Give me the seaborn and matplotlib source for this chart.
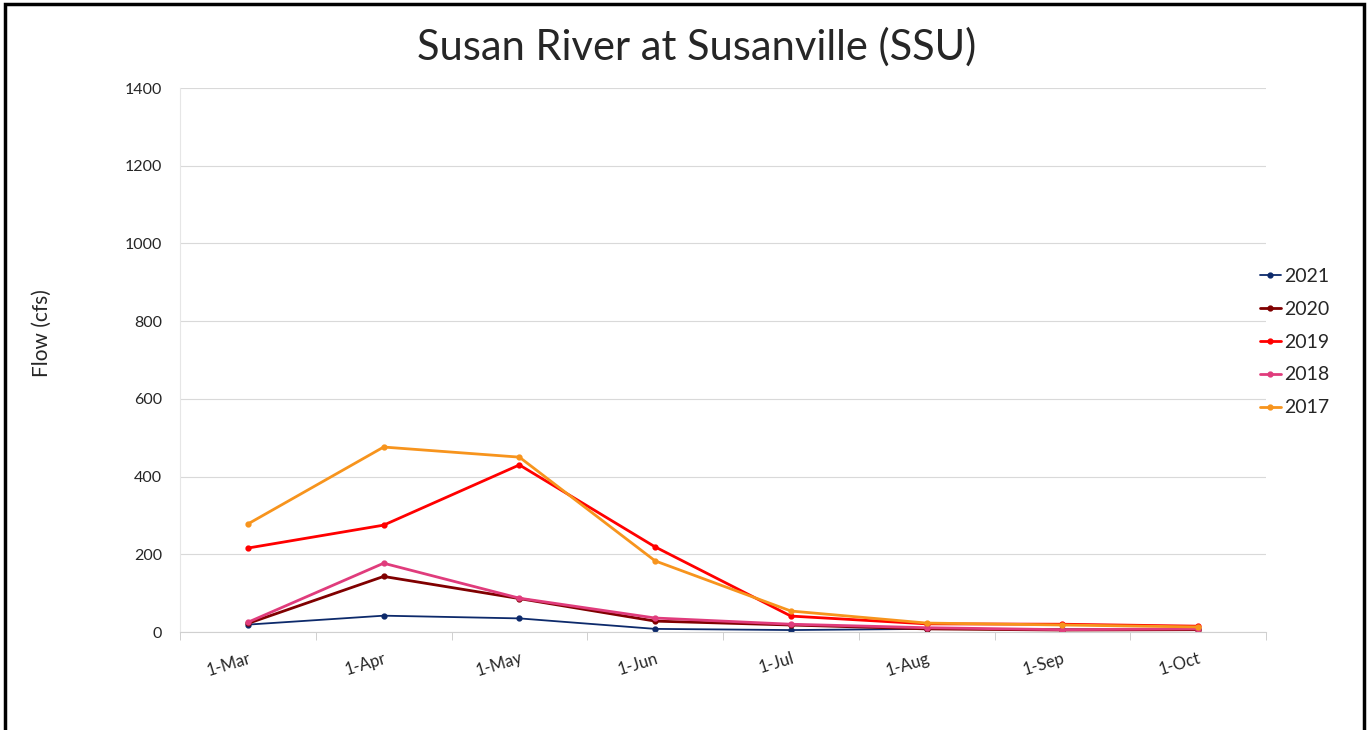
import pandas as pd
import seaborn as sns
import matplotlib.pyplot as plt
import matplotlib.patches as patches
import matplotlib.ticker as ticker

months = ['1-Mar', '1-Apr', '1-May', '1-Jun', '1-Jul', '1-Aug', '1-Sep', '1-Oct']
years = ['2021', '2020', '2019', '2018', '2017']

flow_2021 = [19, 42, 35, 8, 5, 8, 7, 7]
flow_2020 = [22, 143, 86, 28, 18, 8, 5, 6]
flow_2019 = [216, 275, 430, 219, 41, 21, 20, 15]
flow_2018 = [25, 177, 87, 36, 20, 11, 6, 8]
flow_2017 = [278, 476, 450, 183, 54, 23, 18, 13]

colors = {
    '2021': '#0d2a6b',
    '2020': '#800000',
    '2019': '#ff0000',
    '2018': '#e03c7c',
    '2017': '#f7941d',
}

series = dict(zip(years, [flow_2021, flow_2020, flow_2019, flow_2018, flow_2017]))
rows = []
for yr, vals in series.items():
    for m, v in zip(months, vals):
        rows.append({'month': m, 'flow': v, 'year': yr})
df = pd.DataFrame(rows)

sns.set_style('white')
plt.rcParams['font.family'] = ['Lato', 'DejaVu Sans']

f = plt.figure(figsize=(13.68, 7.3), dpi=100)
ax = f.add_axes([180 / 1368, 1 - 632 / 730, 1086 / 1368, 544 / 730])

sns.pointplot(data=df, x='month', y='flow', hue='year', order=months,
              hue_order=years, palette=colors, markers='o', markersize=3,
              linewidth=2, errorbar=None, ax=ax)

# thinner line for 2021, as in the original
for line in ax.lines:
    if line.get_color() == colors['2021']:
        line.set_linewidth(1.3)

ax.set_ylim(0, 1400)
ax.set_xlim(-0.5, len(months) - 0.5)
ax.yaxis.set_major_locator(ticker.MultipleLocator(200))
ax.grid(axis='y', color='#d9d9d9', linewidth=0.8)
ax.set_axisbelow(True)

for s in ['top', 'right']:
    ax.spines[s].set_visible(False)
ax.spines['left'].set_color('#e6e6e6')
ax.spines['bottom'].set_color('#d0d0d0')

ax.tick_params(axis='y', length=0, labelsize=11.5, pad=13)
ax.set_xticks(range(len(months)))
ax.set_xticklabels(months, rotation=17, ha='right', rotation_mode='anchor', fontsize=12)
ax.tick_params(axis='x', which='major', length=0, pad=13)
ax.xaxis.set_minor_locator(ticker.FixedLocator([i + 0.5 for i in range(-1, len(months))]))
ax.tick_params(axis='x', which='minor', length=6, color='#c8c8c8', bottom=True)

ax.set_xlabel(None)
ax.set_ylabel('Flow (cfs)', fontsize=15)
ax.yaxis.set_label_coords(-0.118, 0.549)

h, l = ax.get_legend_handles_labels()
ax.legend(h, l, loc='center left', bbox_to_anchor=(1252 / 1368, 1 - 342 / 730),
          bbox_transform=f.transFigure, frameon=False, fontsize=14,
          handlelength=1.1, handletextpad=0.15, labelspacing=0.82, borderaxespad=0)

f.text(697 / 1368, 1 - 47 / 730, 'Susan River at Susanville (SSU)',
       ha='center', va='center', fontsize=30)

f.patches.append(patches.Rectangle((5 / 1368, -0.05), 1359 / 1368, 1.05 - 4 / 730,
                                   transform=f.transFigure, fill=False,
                                   edgecolor='black', linewidth=2.5))

plt.savefig('out.png', dpi=100)
